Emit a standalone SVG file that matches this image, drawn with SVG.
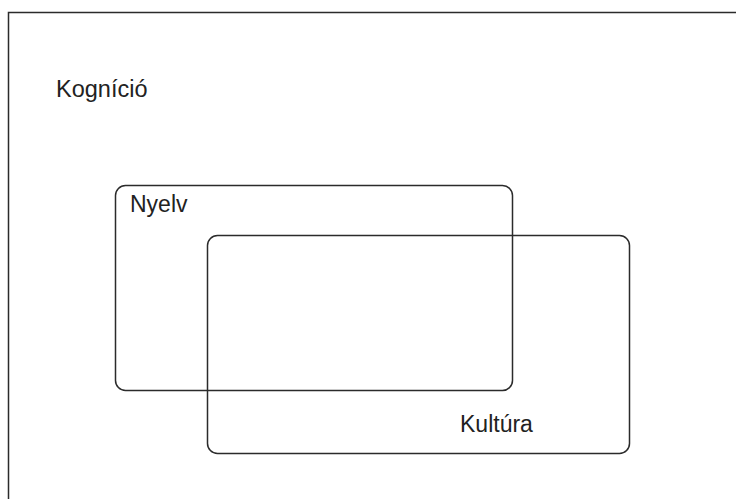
<svg xmlns="http://www.w3.org/2000/svg" width="736" height="499" viewBox="0 0 736 499">
  <style>
    .frame { fill: none; stroke: #2b2b2b; stroke-width: 1.5; }
    .set { fill: none; stroke: #2b2b2b; stroke-width: 1.5; }
    .label { font-family: "Liberation Sans", Arial, sans-serif; font-size: 23px; fill: #222222; }
  </style>
  <rect width="736" height="499" fill="#ffffff"/>
  <!-- outer frame: only the top and left edges are visible -->
  <g id="kognicio">
    <path class="frame" d="M8.5,499 V12.5 H736"/>
    <text class="label" x="56" y="97" style="font-size:23.5px">Kogníció</text>
  </g>
  <g id="nyelv">
    <rect class="set" x="115.5" y="185.5" width="397" height="205" rx="10" ry="10"/>
    <text class="label" x="130" y="212">Nyelv</text>
  </g>
  <g id="kultura">
    <rect class="set" x="207.5" y="235.5" width="422" height="218" rx="10" ry="10"/>
    <text class="label" x="460" y="432">Kultúra</text>
  </g>
  <g id="connectors"/>
</svg>
